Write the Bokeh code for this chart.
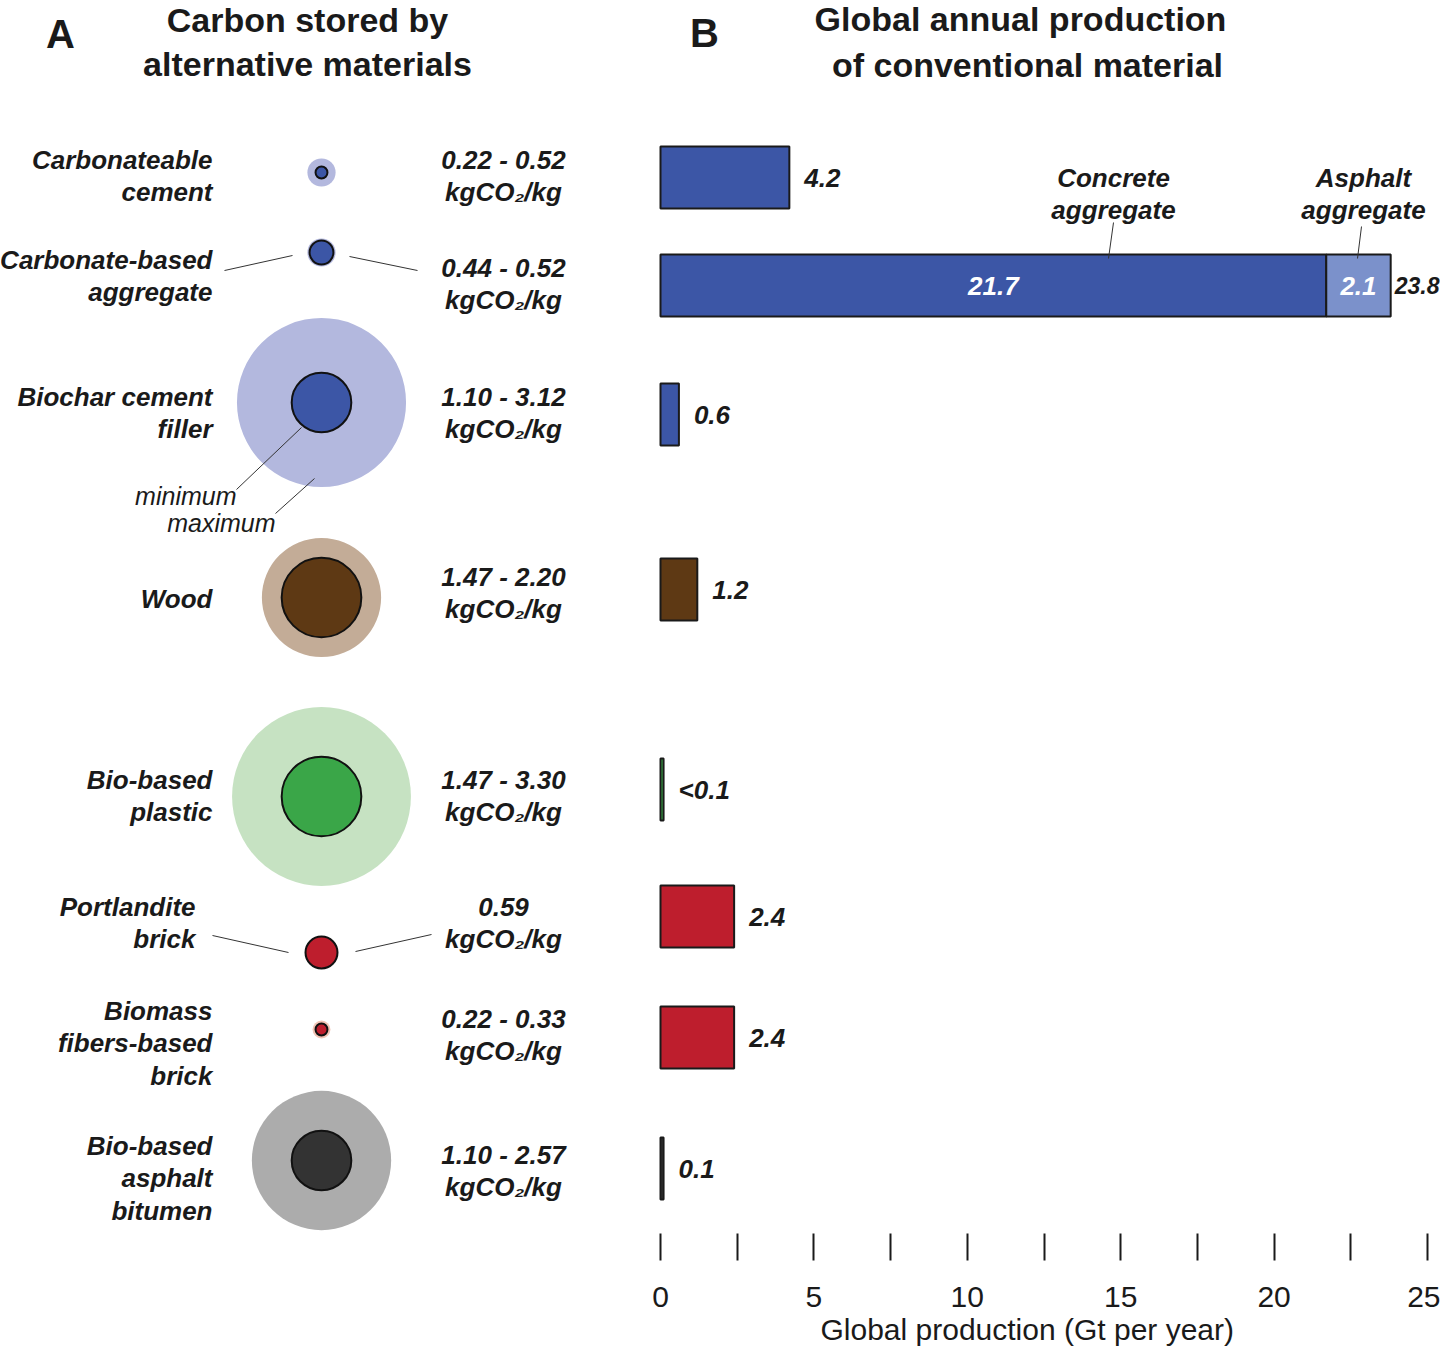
from bokeh.plotting import figure
from bokeh.models import Range1d, LinearAxis, FixedTicker, Title, ColumnDataSource
from bokeh.embed import file_html
from bokeh.resources import INLINE
from bokeh.core.properties import value

# ---------------- DATA ----------------
materials = ["Carbonateable\ncement", "Carbonate-based\naggregate", "Biochar cement\nfiller", "Wood",
             "Bio-based\nplastic", "Portlandite\nbrick", "Biomass\nfibers-based\nbrick",
             "Bio-based\nasphalt\nbitumen"]
carbon_min = [0.22, 0.44, 1.10, 1.47, 1.47, 0.59, 0.22, 1.10]   # kgCO2/kg
carbon_max = [0.52, 0.52, 3.12, 2.20, 3.30, 0.59, 0.33, 2.57]   # kgCO2/kg

# Panel B: global production (Gt per year)
bar_materials = ["Carbonateable cement", "Biochar cement filler", "Wood", "Bio-based plastic",
                 "Portlandite brick", "Biomass fibers-based brick", "Bio-based asphalt bitumen"]
bar_values = [4.2, 0.6, 1.2, 0.1, 2.4, 2.4, 0.1]
bar_labels = ["4.2", "0.6", "1.2", "<0.1", "2.4", "2.4", "0.1"]
aggregate_parts = [21.7, 2.1]          # concrete aggregate, asphalt aggregate
aggregate_part_labels = ["21.7", "2.1"]
aggregate_part_names = ["Concrete\naggregate", "Asphalt\naggregate"]
aggregate_total_label = "23.8"

x_ticks = [0, 5, 10, 15, 20, 25]
x_minor_ticks = [2.5, 7.5, 12.5, 17.5, 22.5]

# ---------------- STYLE / LAYOUT ----------------
dark_colors = ["#3c56a6", "#3c56a6", "#3c56a6", "#5e3914", "#3aa648", "#be1e2d", "#be1e2d", "#333333"]
light_colors = ["#b3b8de", "#b3b8de", "#b3b8de", "#c3ac97", "#c6e2c2", "#f2c4b5", "#f2c4b5", "#acacac"]
bar_colors = ["#3c56a6", "#3c56a6", "#5e3914", "#3aa648", "#be1e2d", "#be1e2d", "#333333"]
aggregate_colors = ["#3c56a6", "#7b91cb"]

PX_PER_KG = 27.1      # circle radius (px) per kgCO2/kg
CIRCLE_X = 321
circle_row_y = [172, 252, 402, 597, 796, 952, 1029, 1160]
name_row_y = [175.5, 275.5, 412.5, 598, 795.5, 922.5, 1043, 1178]
name_x = [212, 212, 212, 212, 212, 195, 212, 212]
value_row_y = [175.5, 283.5, 412.5, 592.5, 795.5, 922.5, 1034.5, 1170.5]
VALUE_X = 503
bar_row_y = [177, 414, 589, 789, 916, 1037, 1168]
aggregate_row_y = 285
BAR_H = 62

FONT = value("Liberation Sans")
INK = "#1a1a1a"
LBL = "26px"
LH = 1.087

GT0_PX, GT_PX = 660, 30.68   # pixel of 0 Gt, pixels per Gt
W, H, FRAME_BOTTOM = 1440, 1351, 1233

p = figure(width=W, height=H,
           x_range=Range1d(0, W), y_range=Range1d(FRAME_BOTTOM, 0),
           x_axis_type=None, y_axis_type=None,
           toolbar_location=None, output_backend="svg",
           min_border_left=0, min_border_right=0, min_border_top=0,
           min_border_bottom=H - FRAME_BOTTOM,
           outline_line_color=None, background_fill_color="white")
p.extra_x_ranges = {"gt": Range1d(-GT0_PX / GT_PX, (W - GT0_PX) / GT_PX)}

# ---------------- PANEL A ----------------
circ = ColumnDataSource(dict(
    x=[CIRCLE_X] * len(materials), y=circle_row_y,
    rmax=[v * PX_PER_KG for v in carbon_max],
    rmin=[v * PX_PER_KG for v in carbon_min],
    dark=dark_colors, light=light_colors))
p.circle(x="x", y="y", radius="rmax", fill_color="light", line_color=None, source=circ)
p.circle(x="x", y="y", radius="rmin", fill_color="dark", line_color="#111111", line_width=2, source=circ)

p.text(x=name_x, y=name_row_y, text=materials, text_align="right", text_baseline="middle",
       text_font=FONT, text_font_style="bold italic", text_font_size=LBL,
       text_line_height=LH, text_color=INK)

value_texts = []
for lo, hi in zip(carbon_min, carbon_max):
    head = f"{lo:.2f}" if lo == hi else f"{lo:.2f} - {hi:.2f}"
    value_texts.append(head + "\nkgCO\u2082/kg")
p.text(x=[VALUE_X] * len(value_texts), y=value_row_y, text=value_texts,
       text_align="center", text_baseline="middle",
       text_font=FONT, text_font_style="bold italic", text_font_size=LBL,
       text_line_height=LH, text_color=INK)

# leader lines (annotations)
p.segment(x0=[224, 349, 236, 275, 212, 355], y0=[270, 256, 489, 513, 935, 951],
          x1=[292, 417, 301, 314, 288, 431], y1=[255, 270, 427, 478, 952, 934],
          line_color="#333333", line_width=1)
p.text(x=[236, 275], y=[495, 522], text=["minimum", "maximum"], text_align="right",
       text_baseline="middle", text_font=FONT, text_font_style="italic",
       text_font_size="25px", text_color=INK)

# ---------------- PANEL B ----------------
bars = ColumnDataSource(dict(y=bar_row_y, right=bar_values, color=bar_colors, label=bar_labels))
p.hbar(y="y", left=0, right="right", height=BAR_H, fill_color="color",
       line_color=INK, line_width=2, x_range_name="gt", source=bars)
p.text(x="right", y="y", text="label", x_offset=15, text_align="left", text_baseline="middle",
       text_font=FONT, text_font_style="bold italic", text_font_size=LBL,
       text_color=INK, x_range_name="gt", source=bars)

agg_left = [0, aggregate_parts[0]]
agg_right = [aggregate_parts[0], aggregate_parts[0] + aggregate_parts[1]]
p.hbar(y=[aggregate_row_y] * 2, left=agg_left, right=agg_right, height=BAR_H,
       fill_color=aggregate_colors, line_color=INK, line_width=2, x_range_name="gt")
p.text(x=[(l + r) / 2 for l, r in zip(agg_left, agg_right)], y=[aggregate_row_y] * 2,
       text=aggregate_part_labels, text_align="center", text_baseline="middle",
       text_font=FONT, text_font_style="bold italic", text_font_size=LBL,
       text_color="white", x_range_name="gt")
p.text(x=[agg_right[-1]], y=[aggregate_row_y], text=[aggregate_total_label], x_offset=4,
       text_align="left", text_baseline="middle", text_font=FONT,
       text_font_style="bold italic", text_font_size="23px", text_color=INK, x_range_name="gt")
p.text(x=[1113, 1363], y=[193.5, 193.5], text=aggregate_part_names, text_align="center",
       text_baseline="middle", text_font=FONT, text_font_style="bold italic",
       text_font_size=LBL, text_line_height=LH, text_color=INK)
p.segment(x0=[1113, 1361], y0=[222, 226], x1=[1108, 1357], y1=[258, 258],
          line_color="#333333", line_width=1)

# ---------------- TITLES ----------------
p.text(x=[307, 307, 1020, 1027], y=[19, 63, 18, 64],
       text=["Carbon stored by", "alternative materials", "Global annual production",
             "of conventional material"],
       text_align="center", text_baseline="middle", text_font=FONT, text_font_style="bold",
       text_font_size="34px", text_color=INK)
p.text(x=[60, 704], y=[33, 32], text=["A", "B"], text_align="center", text_baseline="middle",
       text_font=FONT, text_font_style="bold", text_font_size="40px", text_color=INK)

# ---------------- AXIS ----------------
ax = LinearAxis(x_range_name="gt", ticker=FixedTicker(ticks=x_ticks, minor_ticks=x_minor_ticks))
ax.axis_line_color = None
ax.major_tick_in = 0
ax.major_tick_out = 27
ax.minor_tick_in = 0
ax.minor_tick_out = 27
ax.major_tick_line_width = 2
ax.minor_tick_line_width = 2
ax.major_tick_line_color = INK
ax.minor_tick_line_color = INK
ax.major_label_text_font = "Liberation Sans"
ax.major_label_text_font_size = "30px"
ax.major_label_text_color = INK
ax.major_label_standoff = 26
p.add_layout(ax, "below")

xlabel = Title(text="Global production (Gt per year)", align="left", offset=820,
               text_font="Liberation Sans", text_font_size="30px", text_font_style="normal",
               text_color=INK, standoff=3)
p.add_layout(xlabel, "below")

open("out.html", "w").write(file_html(p, INLINE))
